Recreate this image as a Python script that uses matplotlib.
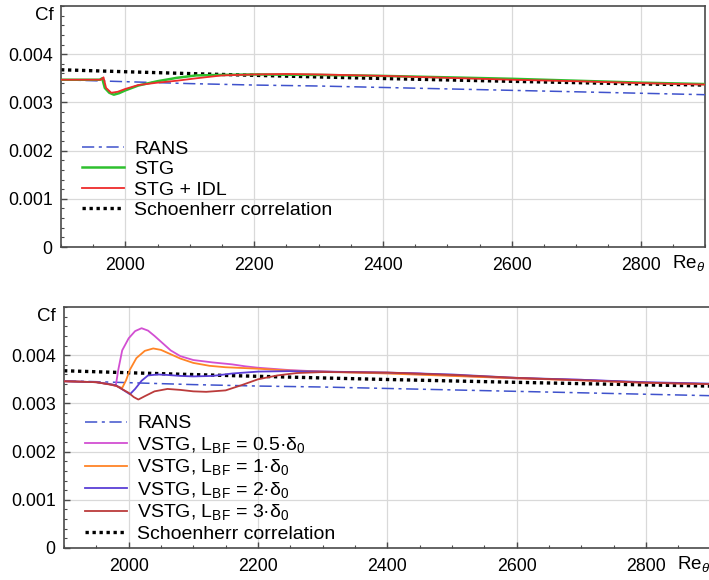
import matplotlib
matplotlib.use("Agg")
import matplotlib.pyplot as plt
from matplotlib.ticker import FixedLocator, MultipleLocator, FixedFormatter
import matplotlib.transforms as mtransforms

plt.rcParams['font.family'] = ['Liberation Sans', 'DejaVu Sans']
plt.rcParams['mathtext.fontset'] = 'custom'
plt.rcParams['mathtext.rm'] = 'Liberation Sans'
plt.rcParams['mathtext.it'] = 'Liberation Sans:italic'
plt.rcParams['mathtext.bf'] = 'Liberation Sans:bold'

# ---------------- data ----------------
# Baseline RANS skin friction
re_rans = [1900, 1950, 2000, 2100, 2200, 2300, 2400, 2500, 2600, 2700, 2800, 2900]
cf_rans = [0.00347, 0.00345, 0.00343, 0.00339, 0.00336, 0.00334, 0.00331, 0.00328,
           0.00325, 0.00322, 0.00319, 0.00316]

# Schoenherr correlation
re_sch = [1900, 2000, 2100, 2200, 2300, 2400, 2500, 2600, 2700, 2800, 2900]
cf_sch = [0.003677, 0.003636, 0.003598, 0.003562, 0.003528, 0.003496, 0.003466,
          0.003437, 0.003410, 0.003384, 0.003359]

# STG
re_stg = [1900, 1960, 1964, 1968, 1975, 1982, 1990, 2000, 2020, 2050, 2080, 2110,
          2150, 2200, 2300, 2400, 2500, 2600, 2700, 2800, 2900]
cf_stg = [0.00347, 0.00347, 0.00350, 0.00330, 0.00320, 0.00316, 0.00319, 0.00325,
          0.00335, 0.00344, 0.00351, 0.00356, 0.00357, 0.00358, 0.00357, 0.00355,
          0.00352, 0.00349, 0.00345, 0.00341, 0.00338]

# STG + IDL
re_idl = [1900, 1962, 1966, 1970, 1978, 1988, 2000, 2020, 2050, 2080, 2110, 2150,
          2200, 2250, 2300, 2400, 2500, 2600, 2700, 2800, 2900]
cf_idl = [0.00347, 0.00347, 0.00352, 0.00330, 0.00320, 0.00322, 0.00328, 0.00336,
          0.00341, 0.00345, 0.00350, 0.00356, 0.00358, 0.00359, 0.00358, 0.00355,
          0.00351, 0.00347, 0.00344, 0.00340, 0.00337]

# VSTG, L_BF = 0.5 delta_0
re_v05 = [1900, 1950, 1970, 1980, 1984, 1990, 2000, 2010, 2020, 2030, 2040, 2050,
          2065, 2080, 2100, 2130, 2160, 2180, 2200, 2250, 2300, 2400, 2450, 2500,
          2600, 2700, 2800, 2900]
cf_v05 = [0.00346, 0.00344, 0.00340, 0.00336, 0.00370, 0.00410, 0.00435, 0.00450,
          0.00456, 0.00451, 0.00440, 0.00428, 0.00410, 0.00398, 0.00390, 0.00385,
          0.00381, 0.00377, 0.00374, 0.00369, 0.00366, 0.00363, 0.00362, 0.00358,
          0.00352, 0.00349, 0.00343, 0.00340]

# VSTG, L_BF = 1 delta_0
re_v1 = [1900, 1950, 1975, 1990, 1996, 2002, 2012, 2025, 2038, 2050, 2065, 2080,
         2100, 2125, 2150, 2200, 2250, 2300, 2400, 2500, 2600, 2700, 2800, 2900]
cf_v1 = [0.00346, 0.00344, 0.00339, 0.00332, 0.00348, 0.00370, 0.00394, 0.00409,
         0.00414, 0.00411, 0.00402, 0.00393, 0.00384, 0.00378, 0.00375, 0.00372,
         0.00368, 0.00366, 0.00362, 0.00357, 0.00352, 0.00348, 0.00343, 0.00340]

# VSTG, L_BF = 2 delta_0
re_v2 = [1900, 1950, 1980, 1995, 2002, 2010, 2020, 2030, 2045, 2060, 2080, 2100,
         2130, 2160, 2200, 2250, 2300, 2400, 2500, 2600, 2700, 2800, 2900]
cf_v2 = [0.00346, 0.00344, 0.00338, 0.00325, 0.00319, 0.00330, 0.00347, 0.00358,
         0.00360, 0.00359, 0.00357, 0.00356, 0.00357, 0.00362, 0.00366, 0.00367,
         0.00366, 0.00364, 0.00360, 0.00353, 0.00349, 0.00344, 0.00341]

# VSTG, L_BF = 3 delta_0
re_v3 = [1900, 1950, 1980, 2000, 2008, 2015, 2025, 2040, 2060, 2080, 2100, 2120,
         2150, 2175, 2200, 2230, 2260, 2300, 2400, 2500, 2600, 2700, 2800, 2900]
cf_v3 = [0.00346, 0.00344, 0.00337, 0.00322, 0.00313, 0.00308, 0.00315, 0.00325,
         0.00330, 0.00328, 0.00325, 0.00324, 0.00327, 0.00338, 0.00350, 0.00358,
         0.00363, 0.00365, 0.00364, 0.00359, 0.00353, 0.00348, 0.00343, 0.00340]

x_ticks = [2000, 2200, 2400, 2600, 2800]
x_labels = ['2000', '2200', '2400', '2600', '2800']
y_ticks = [0, 0.001, 0.002, 0.003, 0.004]
y_labels = ['0', '0.001', '0.002', '0.003', '0.004']

# ---------------- styles ----------------
C_RANS = '#3f52cc'
C_STG = '#2ec02e'
C_IDL = '#ee2b2b'
C_V05 = '#d24fd2'
C_V1 = '#ff8426'
C_V2 = '#5a3fd6'
C_V3 = '#bb3b3b'
SPINE = '#4a4a4a'
TICK_FS = 12.8
LEG_FS = 14

fig = plt.figure(figsize=(7.09, 5.80), dpi=100)
ax1 = fig.add_axes([61 / 709, 1 - 247 / 580, 644 / 709, 241 / 580])
ax2 = fig.add_axes([64 / 709, 1 - 548 / 580, 646.5 / 709, 241 / 580])


def style_axes(ax):
    ax.set_xlim(1900, 2900)
    ax.set_ylim(0, 0.005)
    ax.xaxis.set_major_locator(FixedLocator(x_ticks))
    ax.xaxis.set_major_formatter(FixedFormatter(x_labels))
    ax.yaxis.set_major_locator(FixedLocator(y_ticks))
    ax.yaxis.set_major_formatter(FixedFormatter(y_labels))
    ax.xaxis.set_minor_locator(MultipleLocator(50))
    ax.yaxis.set_minor_locator(MultipleLocator(0.0002))
    ax.tick_params(which='both', direction='in', color=SPINE, top=False, right=False)
    ax.tick_params(which='major', length=4, width=1.0, labelsize=TICK_FS)
    ax.tick_params(axis='x', which='major', pad=7)
    ax.tick_params(axis='y', which='major', pad=6)
    ax.tick_params(which='minor', length=2.5, width=0.8)
    ax.grid(True, which='major', color='#d9d9d9', lw=0.9)
    ax.set_axisbelow(True)
    for s in ax.spines.values():
        s.set_color(SPINE)
        s.set_linewidth(1.2)
    trans = mtransforms.blended_transform_factory(ax.transAxes, ax.transData)
    ax.text(-0.012, 0.0048, 'Cf', transform=trans, ha='right', va='center',
            fontsize=TICK_FS + 0.7)
    ax.text(2848, -0.00034, r'Re$_\theta$', ha='left', va='center',
            fontsize=TICK_FS + 0.7, clip_on=False)


def plot_common(ax):
    ax.plot(re_rans, cf_rans, color=C_RANS, lw=1.1, dashes=(8, 3, 2, 3),
            label='RANS', zorder=3)


def plot_schoenherr(ax):
    ax.plot(re_sch, cf_sch, color='black', lw=2.4, linestyle=(0, (1, 1.1)),
            label='Schoenherr correlation', zorder=2)


style_axes(ax1)
plot_common(ax1)
ax1.plot(re_stg, cf_stg, color=C_STG, lw=1.8, label='STG', zorder=4)
ax1.plot(re_idl, cf_idl, color=C_IDL, lw=1.3, label='STG + IDL', zorder=5)
plot_schoenherr(ax1)
ax1.legend(loc='upper left', bbox_to_anchor=(0.0326, 0.443), frameon=False,
           fontsize=LEG_FS, borderaxespad=0, borderpad=0, handlelength=2.17,
           handletextpad=0.5, labelspacing=0.145)

style_axes(ax2)
plot_common(ax2)
ax2.plot(re_v05, cf_v05, color=C_V05, lw=1.3, zorder=4,
         label=r'VSTG, $\mathrm{L_{BF}}$ = 0.5·$\mathrm{δ_0}$')
ax2.plot(re_v1, cf_v1, color=C_V1, lw=1.3, zorder=4,
         label=r'VSTG, $\mathrm{L_{BF}}$ = 1·$\mathrm{δ_0}$')
ax2.plot(re_v2, cf_v2, color=C_V2, lw=1.3, zorder=4,
         label=r'VSTG, $\mathrm{L_{BF}}$ = 2·$\mathrm{δ_0}$')
ax2.plot(re_v3, cf_v3, color=C_V3, lw=1.3, zorder=5,
         label=r'VSTG, $\mathrm{L_{BF}}$ = 3·$\mathrm{δ_0}$')
plot_schoenherr(ax2)
ax2.legend(loc='upper left', bbox_to_anchor=(0.0326, 0.553), frameon=False,
           fontsize=LEG_FS, borderaxespad=0, borderpad=0, handlelength=2.17,
           handletextpad=0.5, labelspacing=0.13)

fig.savefig('out.png', dpi=100)
